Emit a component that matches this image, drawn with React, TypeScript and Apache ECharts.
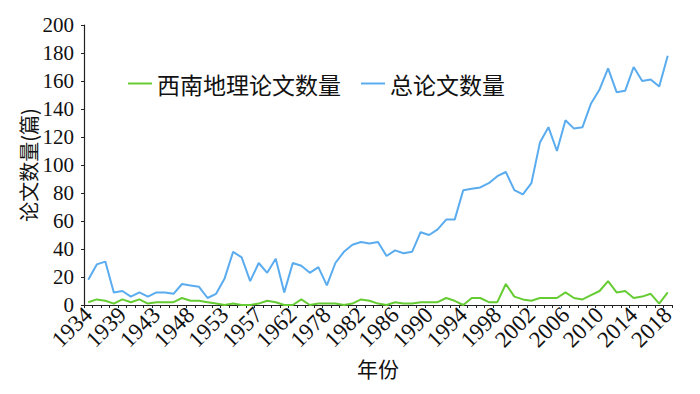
import React, { useEffect, useRef } from "react";
import * as echarts from "echarts";

const years: string[] = [
  "1934", "1935", "1936", "1937", "1939", "1940", "1941", "1942", "1943", "1944",
  "1945", "1946", "1948", "1949", "1950", "1951", "1953", "1954", "1955", "1956",
  "1957", "1958", "1959", "1961", "1962", "1963", "1964", "1965", "1978", "1979",
  "1980", "1981", "1982", "1983", "1984", "1985", "1986", "1987", "1988", "1989",
  "1990", "1991", "1992", "1993", "1994", "1995", "1996", "1997", "1998", "1999",
  "2000", "2001", "2002", "2003", "2004", "2005", "2006", "2007", "2008", "2009",
  "2010", "2011", "2012", "2013", "2014", "2015", "2016", "2017", "2018",
];

const southwestPapers: number[] = [
  2, 4, 3, 1, 4, 2, 4, 1, 2, 2, 2, 5, 3,
  3, 2, 1, 0, 1, 0, 0, 1, 3, 2,
  0, 0, 4, 0, 1, 1, 1, 0, 1,
  4, 3, 1, 0, 2, 1, 1, 2, 2, 2, 5, 3,
  0, 5, 5, 2, 2, 15, 6, 4, 3, 5, 5, 5,
  9, 5, 4, 7, 10, 17, 9, 10, 5, 6, 8, 1, 9,
];

const totalPapers: number[] = [
  18, 29, 31, 9, 10, 6, 9, 6, 9, 9, 8, 15, 14,
  13, 5, 8, 19, 38, 34, 17, 30, 23, 33,
  9, 30, 28, 23, 27, 14, 30, 38, 43,
  45, 44, 45, 35, 39, 37, 38, 52, 50, 54, 61, 61,
  82, 83, 84, 87, 92, 95, 82, 79, 87, 116, 127, 110,
  132, 126, 127, 144, 154, 169, 152, 153, 170, 160, 161, 156, 178,
];

const seriesNames = ["西南地理论文数量", "总论文数量"];

const labelEvery = 4;

const serif = "Liberation Serif";
const cjk = "Noto Sans CJK SC";

export default function App() {
  const ref = useRef<HTMLDivElement>(null);
  useEffect(() => {
    if (!ref.current) return;
    const chart = echarts.init(ref.current, undefined, { renderer: "svg" });
    chart.setOption({
      animation: false,
      backgroundColor: "#ffffff",
      grid: { left: 84, right: 28, top: 25, bottom: 89, outerBoundsMode: "none" },
      legend: {
        left: 128,
        top: 72,
        padding: 0,
        icon: "rect",
        itemWidth: 24,
        itemHeight: 2,
        itemGap: 20,
        textStyle: { fontFamily: cjk, fontSize: 23, color: "#111" },
        data: seriesNames,
      },
      xAxis: {
        type: "category",
        data: years,
        boundaryGap: true,
        name: "年份",
        nameLocation: "middle",
        nameGap: 52,
        nameMoveOverlap: false,
        nameTextStyle: { fontFamily: cjk, fontSize: 21, color: "#111" },
        axisLine: { lineStyle: { color: "#222", width: 1.2 } },
        axisTick: { show: true, interval: 0, length: 3, lineStyle: { color: "#222" } },
        axisLabel: {
          interval: 0,
          formatter: (v: string, i: number) => (i % labelEvery === 0 ? v : ""),
          rotate: 45,
          hideOverlap: false,
          showMinLabel: true,
          showMaxLabel: true,
          fontFamily: serif,
          fontSize: 23,
          color: "#111",
          margin: 6,
        },
      },
      yAxis: {
        type: "value",
        min: 0,
        max: 200,
        interval: 20,
        name: "论文数量(篇)",
        nameLocation: "middle",
        nameGap: 46,
        nameMoveOverlap: false,
        nameTextStyle: { fontFamily: cjk, fontSize: 20, color: "#111" },
        splitLine: { show: false },
        axisLine: { show: true, lineStyle: { color: "#222", width: 1.2 } },
        axisTick: { show: true, length: 3, lineStyle: { color: "#222" } },
        axisLabel: { fontFamily: serif, fontSize: 21, color: "#111", margin: 10 },
      },
      series: [
        {
          name: seriesNames[0],
          type: "line",
          data: southwestPapers,
          symbol: "none",
          lineStyle: { color: "#66cc33", width: 2 },
          itemStyle: { color: "#66cc33" },
        },
        {
          name: seriesNames[1],
          type: "line",
          data: totalPapers,
          symbol: "none",
          lineStyle: { color: "#5aacef", width: 2 },
          itemStyle: { color: "#5aacef" },
        },
      ],
    });
    return () => chart.dispose();
  }, []);
  return (
    <div
      ref={ref}
      style={{ position: "fixed", left: 0, top: 0, width: 700, height: 394 }}
    />
  );
}
